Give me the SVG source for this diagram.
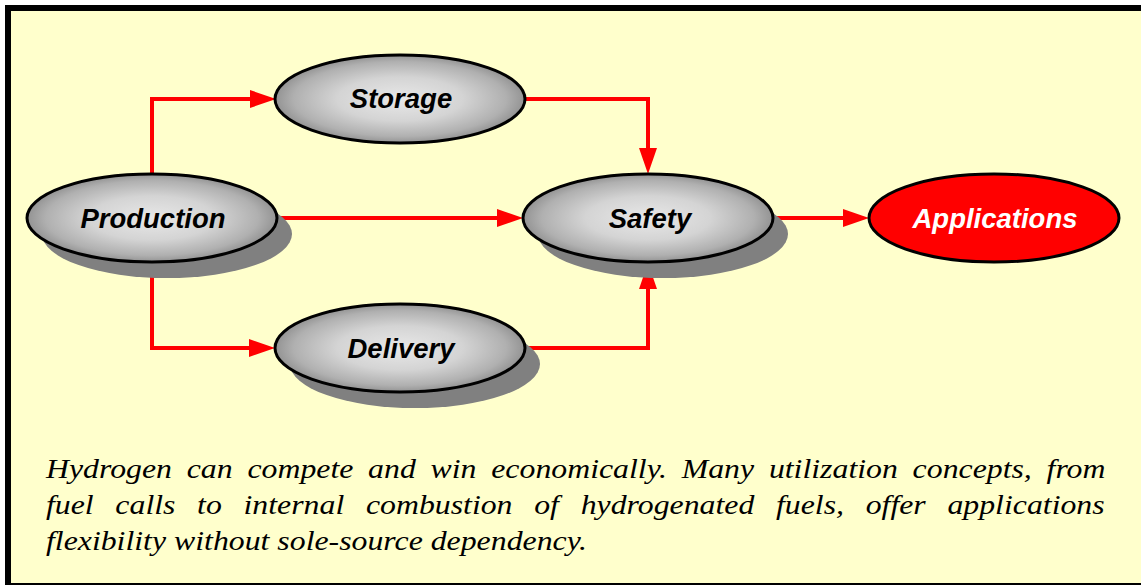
<svg xmlns="http://www.w3.org/2000/svg" width="1141" height="585" viewBox="0 0 1141 585">
  <defs>
    <radialGradient id="gray" cx="50%" cy="50%" r="50%">
      <stop offset="0%" stop-color="#e8e8e8"/>
      <stop offset="50%" stop-color="#d4d4d4"/>
      <stop offset="85%" stop-color="#b0b0b0"/>
      <stop offset="100%" stop-color="#939393"/>
    </radialGradient>
    <marker id="head" viewBox="0 -9 26 18" markerWidth="26" markerHeight="18" refX="0" refY="0" markerUnits="userSpaceOnUse" orient="auto">
      <path d="M0,-9 L26,0 L0,9 Z" fill="#ff0000"/>
    </marker>
  </defs>
  <style>
    .conn { fill: none; stroke: #ff0000; stroke-width: 4; marker-end: url(#head); }
    .node { fill: url(#gray); stroke: #000; stroke-width: 3; }
    .shadow { fill: #808080; }
    .label { font-family: "Liberation Sans", Arial, sans-serif; font-size: 27.5px; font-weight: bold; font-style: italic; text-anchor: middle; fill: #000; }
    .para { font-family: "Liberation Serif", "Times New Roman", serif; font-size: 28px; font-style: italic; fill: #000; }
  </style>

  <!-- frame -->
  <rect x="0" y="0" width="1141" height="585" fill="#ffffff"/>
  <rect x="8" y="8" width="1133" height="576" fill="#ffffcc"/>
  <rect x="10" y="5" width="1131" height="6" fill="#000"/>
  <rect x="5" y="5" width="6" height="580" fill="#000"/>
  <rect x="5" y="583" width="1136" height="2" fill="#000"/>

  <!-- connectors -->
  <g id="connectors">
    <path class="conn" d="M152,174 V99 H250"/>
    <path class="conn" d="M525,99 H648 V148"/>
    <path class="conn" d="M277,218 H497"/>
    <path class="conn" d="M773,218 H843"/>
    <path class="conn" d="M152,262 V348 H249"/>
    <path class="conn" d="M525,348 H648 V289"/>
  </g>

  <g id="storage">
    <ellipse class="node" cx="400" cy="99" rx="125" ry="44"/>
    <text class="label" x="401" y="108">Storage</text>
  </g>

  <g id="production">
    <ellipse class="shadow" cx="167" cy="234" rx="125" ry="44"/>
    <ellipse class="node" cx="152" cy="218" rx="125" ry="44"/>
    <text class="label" x="153" y="228">Production</text>
  </g>

  <g id="safety">
    <ellipse class="shadow" cx="663" cy="234" rx="125" ry="44"/>
    <ellipse class="node" cx="648" cy="218" rx="125" ry="44"/>
    <text class="label" x="650" y="228">Safety</text>
  </g>

  <g id="applications">
    <ellipse cx="994" cy="218" rx="125" ry="44" fill="#ff0000" stroke="#000" stroke-width="3"/>
    <text class="label" x="995" y="228" style="fill:#ffffff">Applications</text>
  </g>

  <g id="delivery">
    <ellipse class="shadow" cx="415" cy="364" rx="125" ry="44"/>
    <ellipse class="node" cx="400" cy="348" rx="125" ry="44"/>
    <text class="label" x="401" y="358">Delivery</text>
  </g>

  <!-- caption -->
  <g id="caption" transform="matrix(1.136,0,0,1,0,0)">
    <text class="para" x="40.5" y="478" word-spacing="6.0">Hydrogen can compete and win economically. Many utilization concepts, from</text>
    <text class="para" x="40.5" y="514" word-spacing="12.1">fuel calls to internal combustion of hydrogenated fuels, offer applications</text>
    <text class="para" x="40.5" y="550">flexibility without sole-source dependency.</text>
  </g>
</svg>
